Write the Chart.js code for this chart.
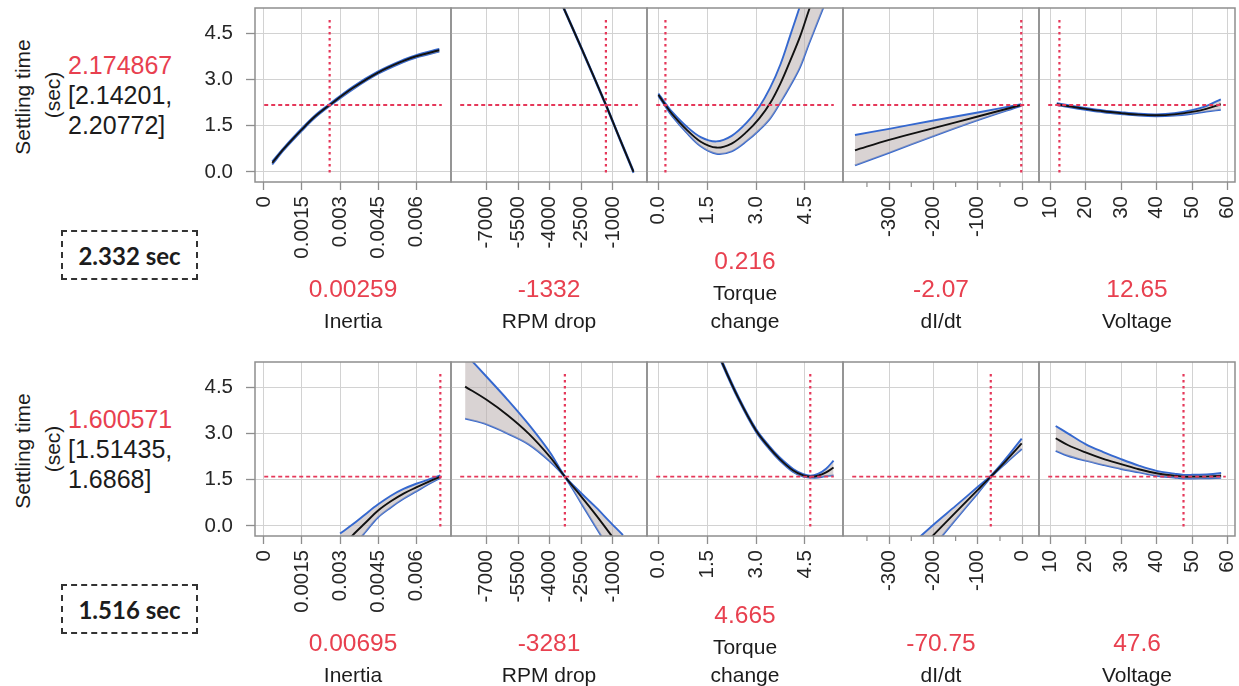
<!DOCTYPE html>
<html><head><meta charset="utf-8">
<script src="https://cdn.jsdelivr.net/npm/chart.js@4.4.1/dist/chart.umd.min.js"></script>
<style>
html,body{margin:0;padding:0;background:#fff;}
body{width:1239px;height:686px;overflow:hidden;position:relative;font-family:"Liberation Sans",Arial,Helvetica,sans-serif;}
canvas{position:absolute;}
.t{position:absolute;white-space:nowrap;line-height:1;color:#1c1c1c;}
.c{transform:translate(-50%,-50%);}
.l{transform:translate(0,-50%);}
.red{color:#e8404f;}
.box{position:absolute;box-sizing:border-box;border:2px dashed #333;display:flex;align-items:center;justify-content:center;font-family:Lato,"Open Sans",sans-serif;font-weight:700;color:#1c1c1c;}
</style></head><body>
<script>
// ---------------- data ----------------
const responseTitle = ["Settling time", "(sec)"];
const predictedText = ["2.174867", "1.600571"];
const predicted = [2.174867, 1.600571];
const ciText = [["[2.14201,", "2.20772]"], ["[1.51435,", "1.6868]"]];
const measuredText = ["2.332 sec", "1.516 sec"];
const factorNames = [["Inertia"], ["RPM drop"], ["Torque", "change"], ["dI/dt"], ["Voltage"]];
const settings = [[0.00259, -1332, 0.216, -2.07, 12.65], [0.00695, -3281, 4.665, -70.75, 47.6]];
const settingText = [["0.00259", "-1332", "0.216", "-2.07", "12.65"], ["0.00695", "-3281", "4.665", "-70.75", "47.6"]];

const yTicks = [0, 1.5, 3, 4.5];
const inertiaTicks = [0, 0.0015, 0.003, 0.0045, 0.006];
const rpmTicks = [-7000, -5500, -4000, -2500, -1000];
const torqueTicks = [0, 1.5, 3, 4.5];
const didtTicks = [-300, -200, -100, 0];
const didtMinorTicks = [-350, -250, -150, -50];
const voltageTicks = [10, 20, 30, 40, 50, 60];

// Row 1 profiles
const r1InertiaX = [0.00033, 0.0008, 0.0015, 0.002, 0.00259, 0.0035, 0.0045, 0.0055, 0.006, 0.00691];
const r1InertiaMean = [0.29, 0.76, 1.38, 1.79, 2.175, 2.725, 3.23, 3.61, 3.76, 3.955];
const r1InertiaUp = [0.34, 0.80, 1.42, 1.83, 2.21, 2.77, 3.27, 3.65, 3.80, 4.00];
const r1InertiaLo = [0.24, 0.72, 1.34, 1.75, 2.14, 2.68, 3.19, 3.57, 3.72, 3.91];

const r1RpmX = [-3800, -3306, -2500, -1332, -700, -21];
const r1RpmMean = [6.05, 5.28, 4.03, 2.175, 1.12, 0.0];
const r1RpmUp = [6.08, 5.31, 4.06, 2.20, 1.15, 0.03];
const r1RpmLo = [6.02, 5.25, 4.00, 2.15, 1.09, -0.03];

const r1TorqueX = [0, 0.216, 0.43, 0.85, 1.3, 1.78, 2.25, 2.71, 3.1, 3.43, 3.75, 4.05, 4.35, 4.62, 4.9, 5.2];
const r1TorqueMean = [2.51, 2.175, 1.87, 1.39, 0.98, 0.79, 0.92, 1.30, 1.74, 2.23, 2.88, 3.62, 4.4, 5.25, 6.1, 7.0];
const r1TorqueUp = [2.55, 2.23, 1.94, 1.49, 1.13, 0.99, 1.17, 1.60, 2.12, 2.73, 3.50, 4.44, 5.40, 6.35, 7.30, 8.30];
const r1TorqueLo = [2.47, 2.13, 1.80, 1.29, 0.83, 0.59, 0.67, 1.00, 1.36, 1.73, 2.26, 2.80, 3.40, 4.15, 4.90, 5.70];

const r1DidtX = [-377, -300, -200, -100, -2];
const r1DidtMean = [0.70, 1.04, 1.42, 1.80, 2.175];
const r1DidtUp = [1.20, 1.40, 1.67, 1.93, 2.20];
const r1DidtLo = [0.21, 0.62, 1.16, 1.68, 2.15];

const r1VoltX = [11.9, 16, 20, 25, 30, 35, 40, 45, 50, 54, 58.1];
const r1VoltMean = [2.20, 2.12, 2.05, 1.97, 1.91, 1.86, 1.84, 1.87, 1.95, 2.05, 2.20];
const r1VoltUp = [2.23, 2.15, 2.08, 2.00, 1.94, 1.89, 1.87, 1.91, 2.01, 2.14, 2.36];
const r1VoltLo = [2.17, 2.09, 2.02, 1.94, 1.88, 1.83, 1.81, 1.83, 1.89, 1.96, 2.02];

// Row 2 profiles
const r2InertiaX = [0.003, 0.0035, 0.004, 0.0045, 0.005, 0.0055, 0.006, 0.0065, 0.00695];
const r2InertiaMean = [-0.75, -0.3, 0.1, 0.5, 0.8, 1.05, 1.25, 1.44, 1.60];
const r2InertiaUp = [-0.25, 0.05, 0.38, 0.70, 0.98, 1.20, 1.37, 1.51, 1.64];
const r2InertiaLo = [-1.25, -0.7, -0.2, 0.28, 0.6, 0.88, 1.12, 1.36, 1.56];

const r2RpmX = [-8019, -7000, -6000, -5000, -4000, -3281, -2500, -1800, -1129, -522];
const r2RpmMean = [4.53, 4.10, 3.60, 3.00, 2.25, 1.60, 0.95, 0.35, -0.26, -0.8];
const r2RpmUp = [5.60, 4.85, 4.10, 3.30, 2.40, 1.62, 1.06, 0.60, 0.12, -0.30];
const r2RpmLo = [3.49, 3.30, 3.00, 2.65, 2.10, 1.58, 0.73, -0.05, -0.79, -1.4];

const r2TorqueX = [1.5, 1.97, 2.47, 3.0, 3.4, 3.72, 4.14, 4.45, 4.665, 4.9, 5.15, 5.38];
const r2TorqueMean = [6.5, 5.28, 4.13, 3.10, 2.55, 2.18, 1.80, 1.64, 1.60, 1.63, 1.74, 1.90];
const r2TorqueUp = [6.56, 5.33, 4.18, 3.15, 2.60, 2.23, 1.85, 1.68, 1.63, 1.69, 1.86, 2.12];
const r2TorqueLo = [6.44, 5.23, 4.08, 3.05, 2.50, 2.13, 1.75, 1.60, 1.57, 1.57, 1.62, 1.64];

const r2DidtX = [-240, -197.5, -150, -100, -70.75, -35, -1];
const r2DidtMean = [-0.9, -0.26, 0.44, 1.17, 1.60, 2.14, 2.68];
const r2DidtUp = [-0.48, 0.07, 0.65, 1.27, 1.63, 2.22, 2.84];
const r2DidtLo = [-1.35, -0.62, 0.2, 1.06, 1.57, 2.06, 2.50];

const r2VoltX = [11.6, 15, 20, 25, 30, 35, 40, 45, 47.6, 50, 55, 58.2];
const r2VoltMean = [2.85, 2.63, 2.39, 2.18, 2.01, 1.84, 1.71, 1.63, 1.60, 1.60, 1.61, 1.63];
const r2VoltUp = [3.25, 3.01, 2.66, 2.40, 2.17, 1.96, 1.79, 1.70, 1.66, 1.66, 1.68, 1.72];
const r2VoltLo = [2.44, 2.28, 2.12, 1.98, 1.85, 1.74, 1.63, 1.57, 1.54, 1.54, 1.55, 1.56];

// ---------------- layout / style ----------------
const FONT = '"Liberation Sans", Arial, Helvetica, sans-serif';
const RED_LINE = '#e5385a';
const BLUE = '#3568cf';
const GRID = '#d2d2d2';
const FRAME = '#8e8e8e';
const Y_MIN = -0.33, Y_MAX = 5.33;
const ROW_TOP = [8, 362], FRAME_L = 255, PW = 196, FH = 174, PAD = 3, YW = 60, XH = 100;

const xAxes = [
  {min: -0.00035, max: 0.00737, ticks: inertiaTicks, fmt: v => String(v)},
  {min: -8690, max: 620, ticks: rpmTicks, fmt: v => String(v)},
  {min: -0.35, max: 5.67, ticks: torqueTicks, fmt: v => v.toFixed(1)},
  {min: -404, max: 38, ticks: didtTicks, minor: didtMinorTicks, fmt: v => String(v)},
  {min: 6.9, max: 62.1, ticks: voltageTicks, fmt: v => String(v)}
];

const rows = [
  [
    {x: r1InertiaX, m: r1InertiaMean, u: r1InertiaUp, l: r1InertiaLo},
    {x: r1RpmX, m: r1RpmMean, u: r1RpmUp, l: r1RpmLo},
    {x: r1TorqueX, m: r1TorqueMean, u: r1TorqueUp, l: r1TorqueLo},
    {x: r1DidtX, m: r1DidtMean, u: r1DidtUp, l: r1DidtLo},
    {x: r1VoltX, m: r1VoltMean, u: r1VoltUp, l: r1VoltLo}
  ],
  [
    {x: r2InertiaX, m: r2InertiaMean, u: r2InertiaUp, l: r2InertiaLo},
    {x: r2RpmX, m: r2RpmMean, u: r2RpmUp, l: r2RpmLo},
    {x: r2TorqueX, m: r2TorqueMean, u: r2TorqueUp, l: r2TorqueLo},
    {x: r2DidtX, m: r2DidtMean, u: r2DidtUp, l: r2DidtLo},
    {x: r2VoltX, m: r2VoltMean, u: r2VoltUp, l: r2VoltLo}
  ]
];

const framePlugin = {
  id: 'frame',
  afterDraw(chart, args, opts) {
    const a = chart.chartArea, ctx = chart.ctx;
    ctx.save();
    ctx.strokeStyle = FRAME;
    ctx.lineWidth = 1.5;
    ctx.strokeRect(a.left, a.top, a.right - a.left, a.bottom - a.top);
    if (opts.minor) {
      const xs = chart.scales.x;
      ctx.lineWidth = 1.2;
      opts.minor.forEach(v => {
        const px = xs.getPixelForValue(v);
        ctx.beginPath(); ctx.moveTo(px, a.bottom); ctx.lineTo(px, a.bottom + 5); ctx.stroke();
      });
    }
    ctx.restore();
  }
};

function pts(xs, ys) { return xs.map((x, k) => ({x: x, y: ys[k]})); }

function makePanel(r, i) {
  const ax = xAxes[i];
  const cv = rows[r][i];
  const extra = i === 0 ? YW : 0;
  const w = PW + 2 * PAD + extra, h = FH + PAD + XH;
  const canvas = document.createElement('canvas');
  canvas.width = w; canvas.height = h;
  canvas.style.left = (FRAME_L + PW * i - PAD - extra) + 'px';
  canvas.style.top = (ROW_TOP[r] - PAD) + 'px';
  canvas.style.width = w + 'px'; canvas.style.height = h + 'px';
  document.body.appendChild(canvas);
  const yr = Y_MAX - Y_MIN, xr = ax.max - ax.min;
  const sx = settings[r][i], pred = predicted[r];
  new Chart(canvas, {
    type: 'line',
    data: {datasets: [
      {data: [{x: sx, y: Y_MIN + 0.055 * yr}, {x: sx, y: Y_MAX - 0.055 * yr}], borderColor: RED_LINE, borderWidth: 2.2, borderDash: [2.5, 3.5], order: 0},
      {data: [{x: ax.min + 0.047 * xr, y: pred}, {x: ax.max - 0.047 * xr, y: pred}], borderColor: RED_LINE, borderWidth: 1.8, borderDash: [4, 3], order: 0},
      {data: pts(cv.x, cv.m), borderColor: '#111', borderWidth: 1.9, tension: 0.35, order: 1},
      {data: pts(cv.x, cv.u), borderColor: BLUE, borderWidth: 1.9, tension: 0.35, fill: '+1', backgroundColor: 'rgba(185,175,175,0.55)', order: 2},
      {data: pts(cv.x, cv.l), borderColor: BLUE, borderWidth: 1.9, tension: 0.35, order: 2}
    ]},
    options: {
      responsive: false, animation: false, devicePixelRatio: 1, events: [],
      layout: {padding: {top: PAD, left: PAD, right: PAD, bottom: 0}, autoPadding: false},
      elements: {point: {radius: 0}},
      plugins: {legend: {display: false}, tooltip: {enabled: false}, frame: {minor: ax.minor || null}},
      scales: {
        x: {
          type: 'linear', min: ax.min, max: ax.max,
          afterBuildTicks: s => { s.ticks = ax.ticks.map(v => ({value: v})); },
          afterFit: s => { s.height = XH; s.paddingLeft = 0; s.paddingRight = 0; },
          ticks: {autoSkip: false, minRotation: 90, maxRotation: 90, padding: 6, color: '#262626',
                  font: {family: FONT, size: 20.5}, callback: v => ax.fmt(v)},
          grid: {color: GRID, lineWidth: 1, tickLength: 8, tickColor: FRAME, tickWidth: 1.3},
          border: {display: false}
        },
        y: {
          type: 'linear', min: Y_MIN, max: Y_MAX,
          afterBuildTicks: s => { s.ticks = yTicks.map(v => ({value: v})); },
          afterFit: s => { s.width = extra; s.paddingTop = 0; s.paddingBottom = 0; },
          ticks: {display: i === 0, padding: 13, color: '#262626', font: {family: FONT, size: 20.5},
                  callback: v => v.toFixed(1)},
          grid: {color: GRID, lineWidth: 1, drawTicks: i === 0, tickLength: 9, tickColor: FRAME, tickWidth: 1.3},
          border: {display: false}
        }
      }
    },
    plugins: [framePlugin]
  });
}

function addText(txt, x, y, cls, size) {
  const d = document.createElement('div');
  d.className = 't ' + cls;
  d.textContent = txt;
  d.style.left = x + 'px'; d.style.top = y + 'px';
  d.style.fontSize = size + 'px';
  document.body.appendChild(d);
  return d;
}

for (let r = 0; r < 2; r++) {
  const off = ROW_TOP[r] - ROW_TOP[0];
  const t1 = addText(responseTitle[0], 21.5, 97 + off, 'c', 21);
  t1.style.transform = 'translate(-50%,-50%) rotate(-90deg)';
  const t2 = addText(responseTitle[1], 52, 95 + off, 'c', 21);
  t2.style.transform = 'translate(-50%,-50%) rotate(-90deg)';
  addText(predictedText[r], 68, 65 + off, 'l red', 25);
  addText(ciText[r][0], 68, 95 + off, 'l', 25);
  addText(ciText[r][1], 68, 125 + off, 'l', 25);
  const b = document.createElement('div');
  b.className = 'box';
  b.textContent = measuredText[r];
  b.style.left = '61px'; b.style.top = (230 + off) + 'px';
  b.style.width = '137px'; b.style.height = '50px'; b.style.fontSize = '24px';
  document.body.appendChild(b);
  for (let i = 0; i < 5; i++) {
    makePanel(r, i);
    const cx = FRAME_L + PW * i + PW / 2;
    const names = factorNames[i];
    if (names.length === 2) {
      addText(settingText[r][i], cx, 261 + off, 'c red', 24.5);
      addText(names[0], cx, 292 + off, 'c', 21);
      addText(names[1], cx, 320 + off, 'c', 21);
    } else {
      addText(settingText[r][i], cx, 289 + off, 'c red', 24.5);
      addText(names[0], cx, 320 + off, 'c', 21);
    }
  }
}
</script>
</body></html>
